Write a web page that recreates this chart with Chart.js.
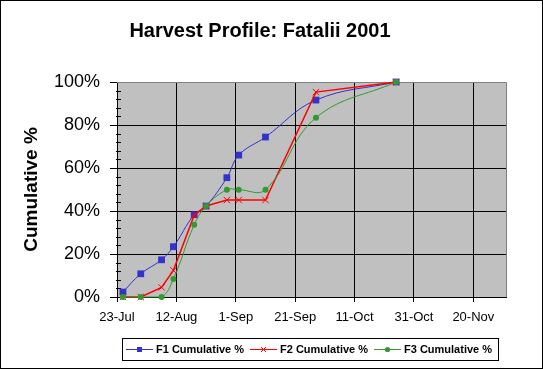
<!DOCTYPE html>
<html>
<head>
<meta charset="utf-8">
<script src="https://cdn.jsdelivr.net/npm/chart.js@4"></script>
<style>
	html, body { margin: 0; padding: 0; background: #fff; }
</style>
</head>
<body>
<canvas id="chart" width="543" height="369"></canvas>
<script>
// Harvest dates and cumulative % for each plant
var startDate = '2001-07-23';
var harvestDates = ['2001-07-25', '2001-07-31', '2001-08-07', '2001-08-11', '2001-08-18', '2001-08-22',
	'2001-08-29', '2001-09-02', '2001-09-11', '2001-09-28', '2001-10-25'];
var f1Values = [2.3, 10.8, 17.3, 23.4, 38.3, 42.3, 55.5, 66.0, 74.4, 91.6, 100];
var f2Values = [0, 0, 4.5, 12.4, 38.0, 42.3, 45.1, 45.1, 45.1, 95.3, 100];
var f3Values = [0, 0, 0, 8.4, 33.6, 42.3, 49.9, 49.9, 49.9, 83.4, 100];
var seriesNames = ['F1 Cumulative %', 'F2 Cumulative %', 'F3 Cumulative %'];
var xTickLabels = ['23-Jul', '12-Aug', '1-Sep', '21-Sep', '11-Oct', '31-Oct', '20-Nov'];
var yTickLabels = ['0%', '20%', '40%', '60%', '80%', '100%'];

var FONT = 'Arial, "Liberation Sans", sans-serif';
var BLUE = '#3333cc', RED = '#ff0000', GREEN = '#339933';

function dayOf(d) {
	return (Date.parse(d) - Date.parse(startDate)) / 86400000;
}

function points(values) {
	return values.map(function(v, i) {
		return { x: dayOf(harvestDates[i]), y: v };
	});
}

var framePlugin = {
	id: 'frame',
	beforeDraw: function(chart) {
		var ctx = chart.ctx, a = chart.chartArea;
		ctx.save();
		ctx.fillStyle = '#fff';
		ctx.fillRect(0, 0, chart.width, chart.height);
		ctx.fillStyle = '#c0c0c0';
		ctx.fillRect(a.left, a.top, a.right - a.left, a.bottom - a.top);
		ctx.restore();
	},
	beforeDatasetsDraw: function(chart) {
		var ctx = chart.ctx, a = chart.chartArea, y = chart.scales.y;
		ctx.save();
		// grey plot border on top and right
		ctx.strokeStyle = '#808080';
		ctx.lineWidth = 1;
		ctx.beginPath();
		ctx.moveTo(a.left, a.top + 0.5);
		ctx.lineTo(a.right + 0.5, a.top + 0.5);
		ctx.lineTo(a.right + 0.5, a.bottom);
		ctx.stroke();
		// minor ticks on the value axis
		ctx.strokeStyle = '#000';
		ctx.beginPath();
		for (var v = 4; v < 100; v += 4) {
			if (v % 20 === 0) continue;
			var py = Math.round(y.getPixelForValue(v)) + 0.5;
			ctx.moveTo(a.left - 1, py);
			ctx.lineTo(a.left + 4, py);
		}
		ctx.stroke();
		ctx.restore();
	},
	afterDraw: function(chart) {
		var ctx = chart.ctx;
		ctx.save();
		// title
		ctx.fillStyle = '#000';
		ctx.font = 'bold 20px ' + FONT;
		ctx.textAlign = 'center';
		ctx.textBaseline = 'middle';
		ctx.fillText('Harvest Profile: Fatalii 2001', 260, 31);

		// legend box
		ctx.fillStyle = '#fff';
		ctx.fillRect(122, 338, 376, 22);
		ctx.strokeStyle = '#000';
		ctx.lineWidth = 1;
		ctx.strokeRect(122.5, 338.5, 376, 22);

		var items = [
			{ x: 126, color: BLUE, style: 'rect' },
			{ x: 250, color: RED, style: 'crossRot' },
			{ x: 374, color: GREEN, style: 'circle' }
		];
		var ly = 349.5;
		ctx.font = 'bold 11px ' + FONT;
		ctx.textAlign = 'left';
		items.forEach(function(it, i) {
			ctx.strokeStyle = it.color;
			ctx.lineWidth = 1;
			ctx.beginPath();
			ctx.moveTo(it.x, ly);
			ctx.lineTo(it.x + 27, ly);
			ctx.stroke();
			var cx = it.x + 13.5;
			ctx.fillStyle = it.color;
			if (it.style === 'rect') {
				ctx.fillRect(cx - 2.5, ly - 2.5, 5, 5);
			} else if (it.style === 'circle') {
				ctx.beginPath();
				ctx.arc(cx, ly, 2.6, 0, Math.PI * 2);
				ctx.fill();
			} else {
				ctx.beginPath();
				ctx.moveTo(cx - 2.5, ly - 2.5); ctx.lineTo(cx + 2.5, ly + 2.5);
				ctx.moveTo(cx + 2.5, ly - 2.5); ctx.lineTo(cx - 2.5, ly + 2.5);
				ctx.stroke();
			}
			ctx.fillStyle = '#000';
			ctx.fillText(seriesNames[i], it.x + 30, ly + 0.5);
		});

		// outer frame
		ctx.strokeStyle = '#000';
		ctx.strokeRect(0.5, 0.5, chart.width - 1, chart.height - 1);
		ctx.restore();
	}
};

var ctx = document.getElementById('chart').getContext('2d');
var chart = new Chart(ctx, {
	type: 'line',
	data: {
		datasets: [{
			label: seriesNames[0],
			data: points(f1Values),
			borderColor: BLUE,
			backgroundColor: BLUE,
			borderWidth: 1,
			tension: 0.4,
			pointStyle: 'rect',
			pointRadius: 4.8,
			pointBorderWidth: 0,
			order: 3,
			clip: false
		}, {
			label: seriesNames[1],
			data: points(f2Values),
			borderColor: RED,
			backgroundColor: RED,
			borderWidth: 1.5,
			tension: 0,
			pointStyle: 'crossRot',
			pointRadius: 4.5,
			pointBorderWidth: 1,
			order: 2,
			clip: false
		}, {
			label: seriesNames[2],
			data: points(f3Values),
			borderColor: GREEN,
			backgroundColor: GREEN,
			borderWidth: 1,
			tension: 0.4,
			pointStyle: 'circle',
			pointRadius: 3,
			pointBorderWidth: 0,
			order: 1,
			clip: false
		}]
	},
	options: {
		responsive: false,
		animation: false,
		layout: { padding: { left: 0, top: 82, right: 37, bottom: 0 } },
		plugins: {
			legend: { display: false },
			title: { display: false },
			tooltip: { enabled: false }
		},
		scales: {
			x: {
				type: 'linear',
				min: 0,
				max: 131,
				afterFit: function(scale) { scale.height = 72; },
				afterBuildTicks: function(scale) {
					scale.ticks = xTickLabels.map(function(l, i) { return { value: i * 20 }; });
				},
				ticks: {
					stepSize: 20,
					padding: 8,
					color: '#000',
					font: { family: FONT, size: 13 },
					maxRotation: 0,
					autoSkip: false,
					callback: function(v) { return xTickLabels[v / 20]; }
				},
				grid: { color: '#000', lineWidth: 1, tickLength: 5, tickColor: '#000' },
				border: { color: '#000', width: 1 }
			},
			y: {
				min: 0,
				max: 100,
				afterFit: function(scale) { scale.width = 117; },
				ticks: {
					stepSize: 20,
					padding: 10,
					color: '#000',
					font: { family: FONT, size: 18 },
					callback: function(v) { return yTickLabels[v / 20]; }
				},
				grid: { color: '#000', lineWidth: 1, tickLength: 7, tickColor: '#000' },
				border: { color: '#000', width: 1 },
				title: {
					display: true,
					text: 'Cumulative %',
					color: '#000',
					font: { family: FONT, size: 19, weight: 'bold' },
					padding: { top: 20, bottom: 0 }
				}
			}
		}
	},
	plugins: [framePlugin]
});
</script>
</body>
</html>
